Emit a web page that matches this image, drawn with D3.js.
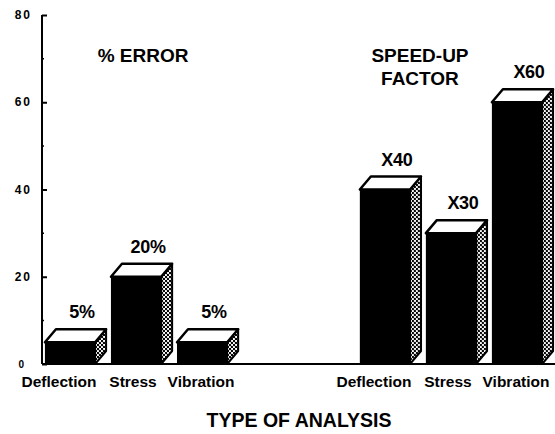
<!DOCTYPE html>
<html>
<head>
<meta charset="utf-8">
<script src="https://cdn.jsdelivr.net/npm/d3@7"></script>
<style>
  body { margin: 0; background: #fff; }
  text { font-family: "Liberation Sans", Arial, sans-serif; font-weight: bold; fill: #000; }
</style>
</head>
<body>
<svg id="chart" width="555" height="434"></svg>
<script>
// data
var groups = ["% ERROR", "SPEED-UP FACTOR"];
var groupTitles = [["% ERROR"], ["SPEED-UP", "FACTOR"]];
var analyses = ["Deflection", "Stress", "Vibration"];
var errorValues = [5, 20, 5];
var speedupValues = [40, 30, 60];
var errorLabels = ["5%", "20%", "5%"];
var speedupLabels = ["X40", "X30", "X60"];
var yTicks = [0, 20, 40, 60, 80];
var yMinorTicks = [10, 30, 50, 70];

var svg = d3.select("#chart");

var depthX = 11, depthY = 13;

var y = d3.scaleLinear().domain([0, 80]).range([364, 15]);

var xGroup = d3.scaleBand().domain(groups).range([37, 550]).paddingInner(0.371);
var xBar = d3.scaleBand().domain(analyses).range([0, xGroup.bandwidth()])
   .paddingInner(0.24).paddingOuter(0.12);

// stipple for the side faces
var defs = svg.append("defs");
var pat = defs.append("pattern")
   .attr("id", "stipple")
   .attr("width", 4).attr("height", 4)
   .attr("patternUnits", "userSpaceOnUse");
pat.append("rect").attr("width", 4).attr("height", 4).attr("fill", "#fff");
pat.append("circle").attr("cx", 1).attr("cy", 1).attr("r", 1.2).attr("fill", "#000");
pat.append("circle").attr("cx", 3).attr("cy", 3).attr("r", 1.2).attr("fill", "#000");

// y axis
var yAxis = d3.axisRight(y).tickValues(yTicks).tickSize(5).tickFormat("");
var gy = svg.append("g").attr("transform", "translate(42,0)").call(yAxis);
gy.select(".domain").attr("stroke-width", 2).attr("d", "M0," + y(80) + "V" + y(0));
gy.selectAll(".tick line").attr("stroke-width", 2);

svg.append("g").selectAll("line")
   .data(yMinorTicks)
   .enter()
   .append("line")
   .attr("x1", 42).attr("x2", 44)
   .attr("y1", function(d) { return y(d); })
   .attr("y2", function(d) { return y(d); })
   .attr("stroke", "#000").attr("stroke-width", 1.5);

svg.append("g").selectAll("text")
   .data(yTicks)
   .enter()
   .append("text")
   .attr("x", function(d) { return d == 0 ? 26 : 32; })
   .attr("y", function(d) { return y(d) + 4; })
   .attr("text-anchor", "end")
   .style("font-size", function(d) { return d == 0 ? "10px" : "12px"; })
   .style("letter-spacing", "2px")
   .text(function(d) { return d; });

// baseline
svg.append("line")
   .attr("x1", 42).attr("x2", 555)
   .attr("y1", y(0)).attr("y2", y(0))
   .attr("stroke", "#000").attr("stroke-width", 2);

function drawGroup(groupName, values, labels, titleLines, titleDx) {
   var g = svg.append("g").attr("transform", "translate(" + xGroup(groupName) + ",0)");
   var rows = analyses.map(function(a, i) {
      return { name: a, value: values[i], label: labels[i] };
   });

   var bar = g.selectAll(".bar")
      .data(rows)
      .enter()
      .append("g")
      .attr("class", "bar");

   // side face
   bar.append("path")
      .attr("d", function(d) {
         var x1 = xBar(d.name) + xBar.bandwidth(), yt = y(d.value), yb = y(0);
         return "M" + x1 + "," + yt + "L" + (x1 + depthX) + "," + (yt - depthY)
            + "L" + (x1 + depthX) + "," + (yb - depthY) + "L" + x1 + "," + yb + "Z";
      })
      .attr("fill", "url(#stipple)")
      .attr("stroke", "#000").attr("stroke-width", 2)
      .attr("stroke-linejoin", "round");

   // top face
   bar.append("path")
      .attr("d", function(d) {
         var x0 = xBar(d.name), x1 = x0 + xBar.bandwidth(), yt = y(d.value);
         return "M" + x0 + "," + yt + "L" + (x0 + depthX) + "," + (yt - depthY)
            + "L" + (x1 + depthX) + "," + (yt - depthY) + "L" + x1 + "," + yt + "Z";
      })
      .attr("fill", "#fff")
      .attr("stroke", "#000").attr("stroke-width", 2.5)
      .attr("stroke-linejoin", "round");

   // front face
   bar.append("rect")
      .attr("x", function(d) { return xBar(d.name); })
      .attr("y", function(d) { return y(d.value); })
      .attr("width", xBar.bandwidth())
      .attr("height", function(d) { return y(0) - y(d.value); })
      .attr("fill", "#000");

   bar.append("text")
      .attr("x", function(d) { return xBar(d.name) + xBar.bandwidth() / 2 + 12; })
      .attr("y", function(d) { return y(d.value) - depthY - 11; })
      .attr("text-anchor", "middle")
      .style("font-size", "18px")
      .style("letter-spacing", "-0.3px")
      .text(function(d) { return d.label; });

   var labelDx = { "Deflection": -11, "Stress": -3, "Vibration": -1 };
   g.selectAll(".cat")
      .data(analyses)
      .enter()
      .append("text")
      .attr("class", "cat")
      .attr("x", function(d) { return xBar(d) + xBar.bandwidth() / 2 + labelDx[d]; })
      .attr("y", 387)
      .attr("text-anchor", "middle")
      .style("font-size", "15.5px")
      .text(function(d) { return d; });

   g.selectAll(".title")
      .data(titleLines)
      .enter()
      .append("text")
      .attr("class", "title")
      .attr("x", xGroup.bandwidth() / 2 + titleDx)
      .attr("y", function(d, i) { return 62 + i * 23; })
      .attr("text-anchor", "middle")
      .style("font-size", "19px")
      .text(function(d) { return d; });
}

drawGroup(groups[0], errorValues, errorLabels, groupTitles[0], 7);
drawGroup(groups[1], speedupValues, speedupLabels, groupTitles[1], -31);

svg.append("text")
   .attr("x", 299)
   .attr("y", 427)
   .attr("text-anchor", "middle")
   .style("font-size", "19.5px")
   .text("TYPE OF ANALYSIS");
</script>
</body>
</html>
